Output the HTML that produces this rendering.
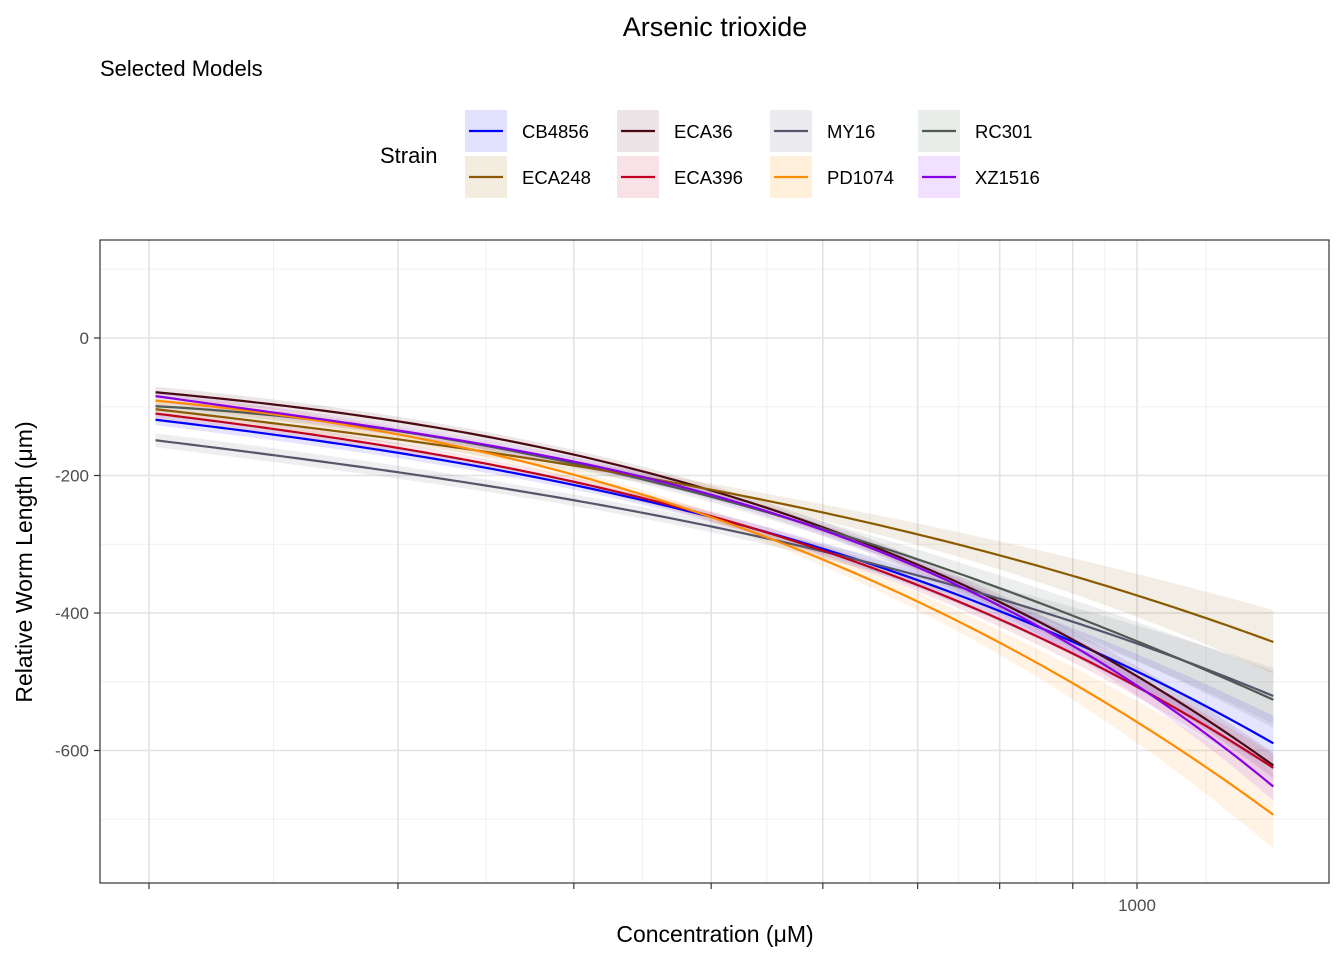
<!DOCTYPE html>
<html><head><meta charset="utf-8"><style>
body{margin:0;background:#fff;font-family:"Liberation Sans",Arial,sans-serif}
svg text{font-family:"Liberation Sans",Arial,sans-serif}
</style></head><body>
<svg id="c" width="1344" height="960" xmlns="http://www.w3.org/2000/svg">
<text x="715" y="36" font-size="27" text-anchor="middle">Arsenic trioxide</text>
<text x="100" y="76" font-size="22">Selected Models</text>
<text x="380" y="163" font-size="22">Strain</text>
<g id="legend"></g>
<rect x="100" y="240" width="1229" height="643" fill="#fff"/>
<g id="grid"></g>
<g id="bands"></g>
<g id="lines"></g>
<rect x="100" y="240" width="1229" height="643" fill="none" stroke="#333" stroke-width="1.2"/>
<g id="axes"></g>
<text x="715" y="942" font-size="23" text-anchor="middle">Concentration (μM)</text>
<text transform="translate(32,562) rotate(-90)" font-size="23" text-anchor="middle">Relative Worm Length (μm)</text>
</svg>
<script>
const strains=["CB4856","ECA36","MY16","RC301","ECA248","ECA396","PD1074","XZ1516"];
const colors=["#0000ff","#4a0a14","#55556b","#4f5a55","#8b5a00","#c0001f","#ff8c00","#8a00e6"];
const fills=["#e2e2ff","#ece4e6","#ececf0","#eaeeeb","#f3ede0","#f8e2e6","#fff0dc","#f1e0ff"];
const xs=[0.0066,0.252,0.431,0.569,0.683,0.779,0.862,0.936,1.0,1.138];
const vals={
CB4856:[-119,-165,-219,-260,-306,-347,-395,-449,-488,-587],
ECA36:[-78,-124,-170,-218,-279,-328,-381,-442,-497,-619],
MY16:[-149,-194,-238,-274,-310,-345,-380,-415,-443,-521],
RC301:[-97,-141,-187,-221,-275,-321,-367,-410,-444,-522],
ECA248:[-104,-146,-187,-218,-257,-287,-318,-345,-371,-444],
ECA396:[-110,-158,-214,-257,-311,-357,-405,-463,-512,-623],
PD1074:[-90,-141,-207,-253,-320,-381,-444,-507,-565,-689],
XZ1516:[-84,-134,-185,-228,-272,-333,-391,-454,-507,-650]};
const halfw={
CB4856:[8,7,7,8,9,11,14,20,26,40],ECA36:[8,7,7,7,8,9,11,13,15,18],MY16:[10,9,9,9,10,12,16,22,28,40],
RC301:[8,7,7,8,10,13,18,25,30,40],ECA248:[9,8,8,9,11,14,20,28,33,45],ECA396:[8,7,7,7,8,9,11,13,15,20],
PD1074:[8,7,7,8,10,13,17,24,30,50],XZ1516:[8,7,7,7,8,9,11,13,15,20]};
const yTicks=[0,-200,-400,-600];
const yMinor=[100,-100,-300,-500,-700];
const xMajor=[0,0.252,0.430,0.569,0.682,0.778,0.861,0.935,1.0];
const xLabels=["","","","","","","","","1000"];
const X=t=>149+988*t, Y=v=>338-v*0.6875;
const NS="http://www.w3.org/2000/svg";
function mk(tag,at,p){const e=document.createElementNS(NS,tag);for(const k in at)e.setAttribute(k,at[k]);p.appendChild(e);return e;}
const grid=document.getElementById('grid'),axes=document.getElementById('axes');
yMinor.forEach(v=>{const l=mk('line',{x1:100,x2:1329,y1:Y(v),y2:Y(v),stroke:'#f0f0f0','stroke-width':1},grid);
});
for(let i=0;i<xMajor.length-1;i++){const m=(xMajor[i]+xMajor[i+1])/2;const l=mk('line',{x1:X(m),x2:X(m),y1:240,y2:883,stroke:'#f0f0f0','stroke-width':1},grid);
}
{const m=1.07;const l=mk('line',{x1:X(m),x2:X(m),y1:240,y2:883,stroke:'#f0f0f0','stroke-width':1},grid);
}
yTicks.forEach(v=>{const l=mk('line',{x1:100,x2:1329,y1:Y(v),y2:Y(v),stroke:'#e3e3e3','stroke-width':1.6},grid);

const t=mk('line',{x1:94,x2:100,y1:Y(v),y2:Y(v),stroke:'#333','stroke-width':1.2},axes);

const tx=mk('text',{x:89,y:Y(v)+6,'font-size':17,fill:'#4d4d4d','text-anchor':'end'},axes);tx.textContent=v;
});
xMajor.forEach((m,i)=>{const l=mk('line',{x1:X(m),x2:X(m),y1:240,y2:883,stroke:'#e3e3e3','stroke-width':1.6},grid);

const t=mk('line',{x1:X(m),x2:X(m),y1:883,y2:889,stroke:'#333','stroke-width':1.2},axes);

if(xLabels[i]){const tx=mk('text',{x:X(m),y:911,'font-size':17,fill:'#4d4d4d','text-anchor':'middle'},axes);tx.textContent=xLabels[i];
}});
// least-squares cubic smoothing of read values
function fit(ys){const n=4,A=[...Array(n)].map(()=>Array(n+1).fill(0));
xs.forEach((x,i)=>{const p=[1,x,x*x,x*x*x];for(let r=0;r<n;r++){for(let c=0;c<n;c++)A[r][c]+=p[r]*p[c];A[r][n]+=p[r]*ys[i];}});
for(let c=0;c<n;c++){let m=c;for(let r=c+1;r<n;r++)if(Math.abs(A[r][c])>Math.abs(A[m][c]))m=r;[A[c],A[m]]=[A[m],A[c]];
for(let r=0;r<n;r++)if(r!==c){const f=A[r][c]/A[c][c];for(let k=c;k<=n;k++)A[r][k]-=f*A[c][k];}}
const co=A.map((r,i)=>r[n]/r[i]);return t=>co[0]+co[1]*t+co[2]*t*t+co[3]*t*t*t;}
const t0=xs[0],t1=xs[xs.length-1],N=120;
const samp=f=>[...Array(N+1)].map((_,i)=>{const t=t0+(t1-t0)*i/N;return [X(t),f(t)];});
const bands=document.getElementById('bands'),lines=document.getElementById('lines');
const fits={},hfits={};
strains.forEach(s=>{fits[s]=fit(vals[s]);hfits[s]=fit(halfw[s]);});
strains.forEach((s,k)=>{
const up=samp(t=>Y(fits[s](t)+hfits[s](t)));
const lo=samp(t=>Y(fits[s](t)-hfits[s](t))).reverse();
const d='M'+up.map(p=>p.join(',')).join('L')+'L'+lo.map(p=>p.join(',')).join('L')+'Z';
const b=mk('path',{d,fill:colors[k],'fill-opacity':0.1,stroke:'none'},bands);
});
strains.forEach((s,k)=>{const pts=samp(t=>Y(fits[s](t)));
const l=mk('path',{d:'M'+pts.map(p=>p.join(',')).join('L'),fill:'none',stroke:colors[k],'stroke-width':2.2,'stroke-linejoin':'round'},lines);
});
const lg=document.getElementById('legend');
const order=["CB4856","ECA248","ECA36","ECA396","MY16","PD1074","RC301","XZ1516"];
const colX=[465,617,770,918];
order.forEach((s,i)=>{const c=Math.floor(i/2),r=i%2,k=strains.indexOf(s);const x=colX[c],y=110+r*46;
const g=mk('g',{},lg);
mk('rect',{x,y,width:42,height:42,fill:fills[k]},g);
mk('line',{x1:x+4,x2:x+38,y1:y+21,y2:y+21,stroke:colors[k],'stroke-width':2.2},g);
const t=mk('text',{x:x+57,y:y+28,'font-size':18.5},g);t.textContent=s;});
</script>
</body></html>
